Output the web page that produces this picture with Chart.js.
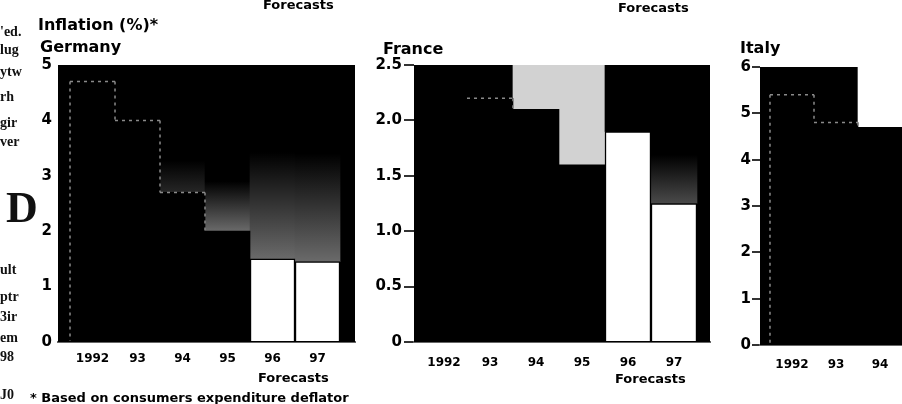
<!DOCTYPE html>
<html>
<head>
<meta charset="utf-8">
<script src="https://cdn.jsdelivr.net/npm/chart.js@4.4.1/dist/chart.umd.min.js"></script>
<style>
  html, body { margin: 0; padding: 0; background: #fff; }
  body { width: 902px; height: 404px; overflow: hidden; position: relative; font-family: "DejaVu Sans", sans-serif; }
  canvas { position: absolute; top: 0; }
  .t { position: absolute; white-space: nowrap; font-weight: bold; color: #000; line-height: 1; }
  .col { position: absolute; left: 0; white-space: nowrap; font-family: "Liberation Serif", "DejaVu Serif", serif; font-weight: bold; color: #111; line-height: 1; font-size: 14px; }
</style>
</head>
<body>
<canvas id="germany" width="360" height="404" style="left:0"></canvas>
<canvas id="france" width="360" height="404" style="left:360px"></canvas>
<canvas id="italy" width="200" height="404" style="left:720px"></canvas>

<!-- neighbouring column, cut at the page edge -->
<div class="col" style="top:25px">'ed.</div>
<div class="col" style="top:43px">lug</div>
<div class="col" style="top:65px">ytw</div>
<div class="col" style="top:90px">rh</div>
<div class="col" style="top:116px">gir</div>
<div class="col" style="top:135px">ver</div>
<div class="col" style="top:186px;left:6px;font-size:44px">D</div>
<div class="col" style="top:263px">ult</div>
<div class="col" style="top:290px">ptr</div>
<div class="col" style="top:310px">3ir</div>
<div class="col" style="top:331px">em</div>
<div class="col" style="top:350px">98</div>
<div class="col" style="top:388px">J0</div>

<div class="t" style="left:263px;top:-2px;font-size:13px">Forecasts</div>
<div class="t" style="left:618px;top:1px;font-size:13px">Forecasts</div>

<div class="t" style="left:38px;top:17px;font-size:16px">Inflation (%)*</div>
<div class="t" style="left:40px;top:39px;font-size:16px">Germany</div>
<div class="t" style="left:383px;top:41px;font-size:16px">France</div>
<div class="t" style="left:740px;top:40px;font-size:16px">Italy</div>

<div class="t" style="left:258px;top:371px;font-size:13px">Forecasts</div>
<div class="t" style="left:615px;top:372px;font-size:13px">Forecasts</div>
<div class="t" style="left:30px;top:391px;font-size:13px">* Based on consumers expenditure deflator</div>

<script>
// Consumer price inflation, % a year
const germanyYears = ['1992', '93', '94', '95', '96', '97'];
const germanyValues = [4.7, 4.0, 2.7, 2.0, 1.5, 1.45];
const germanyForecast = [false, false, false, false, true, true];
const germanyTicks = [0, 1, 2, 3, 4, 5];

const franceYears = ['1992', '93', '94', '95', '96', '97'];
const franceValues = [2.4, 2.2, 2.1, 1.6, 1.9, 1.25];
const franceForecast = [false, false, false, false, true, true];
const franceTicks = [0, 0.5, 1.0, 1.5, 2.0, 2.5];

const italyYears = ['1992', '93', '94'];
const italyValues = [5.4, 4.8, 4.7];
const italyForecast = [false, false, false];
const italyTicks = [0, 1, 2, 3, 4, 5, 6];

// Shading of the panel above each bar: flat colour or a haze that lightens toward the bar top
const halo = (mid, to) => ({ mid, to });

// Black panel behind the bars
const plotFill = {
  id: 'plotFill',
  beforeDatasetsDraw(chart) {
    const { ctx, chartArea: a } = chart;
    ctx.save();
    ctx.fillStyle = '#000';
    ctx.fillRect(a.left, a.top, a.right - a.left, a.bottom - a.top);
    ctx.restore();
  }
};

// Faint dashed outline along the tops of dark bars
const skyline = {
  id: 'skyline',
  afterDatasetsDraw(chart, args, opts) {
    const idx = opts.indices || [];
    if (!idx.length) return;
    const els = chart.getDatasetMeta(0).data.map(e => e.getProps(['x', 'y', 'base', 'width'], true));
    const ctx = chart.ctx;
    ctx.save();
    ctx.strokeStyle = opts.color || '#8a8a8a';
    ctx.lineWidth = 1.5;
    ctx.setLineDash([3, 4]);
    ctx.beginPath();
    idx.forEach(i => {
      const e = els[i];
      const l = e.x - e.width / 2, r = e.x + e.width / 2;
      ctx.moveTo(l, e.y); ctx.lineTo(r, e.y);
      const prev = els[i - 1];
      if (!prev) { ctx.moveTo(l, e.y); ctx.lineTo(l, e.base); }
      else if (prev.y > e.y) { ctx.moveTo(l, e.y); ctx.lineTo(l, prev.y); }
      const next = els[i + 1];
      if (next && next.y > e.y) { ctx.moveTo(r, e.y); ctx.lineTo(r, next.y); }
    });
    ctx.stroke();
    ctx.restore();
  }
};

function panel(id, cfg) {
  const { years, values, forecast, ticks, yMax } = cfg;
  const bgFor = (ctx) => {
    const tone = cfg.tones[ctx.dataIndex];
    if (typeof tone === 'string') return tone;
    const chart = ctx.chart;
    const a = chart.chartArea;
    if (!a) return '#000';
    const yBar = chart.scales.y.getPixelForValue(values[ctx.dataIndex]);
    const g = chart.ctx.createLinearGradient(0, a.top, 0, yBar);
    g.addColorStop(0, '#000');
    g.addColorStop(tone.mid, '#000');
    g.addColorStop(1, tone.to);
    return g;
  };
  return new Chart(document.getElementById(id), {
    type: 'bar',
    data: {
      datasets: [
        {
          label: 'Inflation',
          data: values.map((v, i) => ({ x: i, y: v })),
          backgroundColor: forecast.map(f => f ? '#fff' : '#000'),
          borderColor: '#000',
          borderWidth: forecast.map(f => f ? 1.5 : 0),
          barPercentage: 1,
          categoryPercentage: 1,
          grouped: false,
          order: 1
        },
        {
          label: 'shade',
          data: values.map((v, i) => ({ x: i, y: [v, yMax] })),
          backgroundColor: bgFor,
          borderWidth: 0,
          barPercentage: 1,
          categoryPercentage: 1,
          grouped: false,
          order: 2
        }
      ]
    },
    options: {
      responsive: false,
      animation: false,
      devicePixelRatio: 1,
      layout: { padding: { top: cfg.top, right: cfg.padRight, left: 0, bottom: 0 } },
      plugins: {
        legend: { display: false },
        tooltip: { enabled: false },
        skyline: { indices: cfg.outline }
      },
      scales: {
        x: {
          type: 'linear',
          offset: false,
          min: cfg.xMin,
          max: cfg.xMax,
          afterFit: s => { s.height = cfg.xHeight; },
          afterBuildTicks: s => { s.ticks = years.map((_, i) => ({ value: i })); },
          ticks: {
            callback: v => years[v],
            autoSkip: false,
            maxRotation: 0,
            padding: cfg.xPad,
            color: '#000',
            font: { family: 'DejaVu Sans', weight: 'bold', size: 12 }
          },
          grid: { display: false, offset: false },
          border: { display: true, color: '#666', width: 2 }
        },
        y: {
          min: 0,
          max: yMax,
          afterFit: s => { s.width = cfg.yWidth; },
          afterBuildTicks: s => { s.ticks = ticks.map(v => ({ value: v })); },
          ticks: {
            callback: cfg.fmt,
            padding: cfg.yPad,
            color: '#000',
            font: { family: 'DejaVu Sans', weight: 'bold', size: 15 }
          },
          grid: {
            drawOnChartArea: false,
            drawTicks: cfg.tickLen > 0,
            tickLength: cfg.tickLen,
            color: '#333',
            lineWidth: 2
          },
          border: { display: false }
        }
      }
    },
    plugins: [plotFill, skyline]
  });
}

panel('germany', {
  years: germanyYears, values: germanyValues, forecast: germanyForecast, ticks: germanyTicks,
  yMax: 5, fmt: v => String(v),
  top: 65, padRight: 5, xHeight: 62, yWidth: 58, xMin: -0.767, xMax: 5.833,
  xPad: 2, yPad: 6, tickLen: 0,
  tones: ['#000', '#000', halo(0.75, '#262626'), halo(0.7, '#6a6a6a'), halo(0.45, '#6a6a6a'), halo(0.45, '#6a6a6a')],
  outline: [0, 1, 2]
});

panel('france', {
  years: franceYears, values: franceValues, forecast: franceForecast, ticks: franceTicks,
  yMax: 2.5, fmt: v => v === 0 ? '0' : v.toFixed(1),
  top: 65, padRight: 10, xHeight: 62, yWidth: 54, xMin: -0.652, xMax: 5.783,
  xPad: 6, yPad: 2, tickLen: 10,
  tones: ['#000', '#000', '#d2d2d2', '#d2d2d2', '#000', halo(0.65, '#4a4a4a')],
  outline: [1]
});

panel('italy', {
  years: italyYears, values: italyValues, forecast: italyForecast, ticks: italyTicks,
  yMax: 6, fmt: v => String(v),
  top: 67, padRight: 5, xHeight: 59, yWidth: 40, xMin: -0.727, xMax: 2.795,
  xPad: 5, yPad: 1, tickLen: 8,
  tones: ['#000', '#000', '#fff'],
  outline: [0, 1]
});
</script>
</body>
</html>
